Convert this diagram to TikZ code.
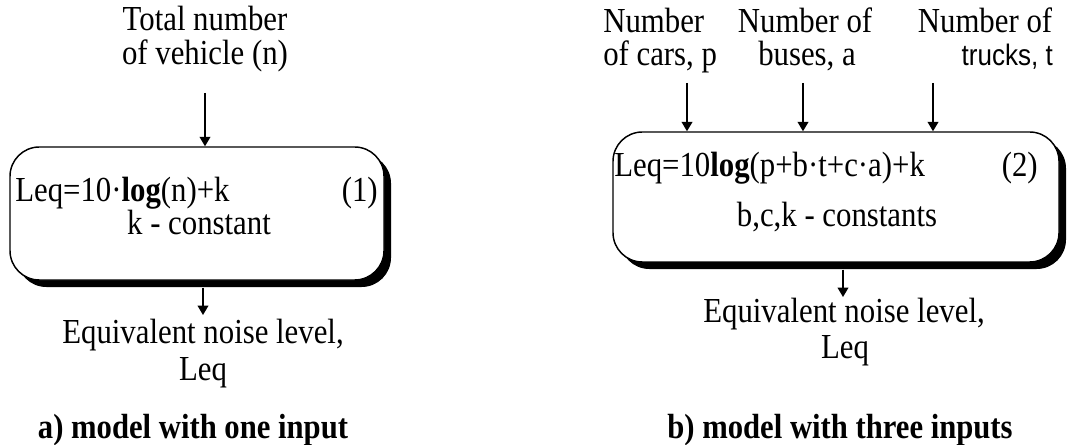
\documentclass[tikz,border=0pt]{standalone}
\usepackage{fontspec}
\setmainfont{Liberation Serif}
\newfontfamily\arialf{Liberation Sans}
\usepackage{graphicx}
\usetikzlibrary{arrows.meta,shadows}
\newcommand{\vs}[1]{\scalebox{1}[1.14]{#1}}
\begin{document}
\begin{tikzpicture}[x=0.75pt,y=-0.75pt,
  txt/.style={inner sep=0pt, font=\fontsize{23.1pt}{28pt}\selectfont},
  sanstxt/.style={inner sep=0pt, font=\arialf\fontsize{19.5pt}{24pt}\selectfont},
  captxt/.style={inner sep=0pt, font=\bfseries\fontsize{23pt}{28pt}\selectfont},
  model/.style={draw=black, line width=1.1pt, fill=white, rounded corners=22pt, inner sep=0pt,
    drop shadow={shadow xshift=5.25pt, shadow yshift=-5.25pt, fill=black, opacity=1}},
  arr/.style={line width=1.1pt, -{Triangle[length=7pt,width=8pt]}}]
\useasboundingbox (0,0) rectangle (1070,445);

% ---- left panel
\node[model, minimum width=280.5pt, minimum height=99.75pt] (box1) at (197,213.5) {};
\node[txt, anchor=base] (t1a) at (205,31) {\vs{Total number}};
\node[txt, anchor=base] (t1b) at (205,65) {\vs{of vehicle (n)}};
\coordinate (i1) at (205,93);
\draw[arr] (i1) -- (i1 |- box1.north);
\node[txt, anchor=base west] (f1) at (15,202) {\vs{Leq=10·\textbf{log}(n)+k}};
\node[txt, anchor=base east] (n1) at (378,202) {\vs{(1)}};
\node[txt, anchor=base] (c1) at (199,234) {\vs{k - constant}};
\coordinate (o1) at (203,315);
\draw[arr] ([yshift=-5.25pt]o1 |- box1.south) -- (o1);
\node[txt, anchor=base] (e1) at (203,343) {\vs{Equivalent noise level,}};
\node[txt, anchor=base] (l1) at (203,380) {\vs{Leq}};
\node[captxt, anchor=base] (cap1) at (193,438) {\vs{a) model with one input}};

% ---- right panel
\node[model, minimum width=334.5pt, minimum height=97.5pt] (box2) at (836,197) {};
\node[txt, anchor=base west] (p2a) at (603,33) {\vs{Number}};
\node[txt, anchor=base west] (p2b) at (603,66) {\vs{of cars, p}};
\node[txt, anchor=base] (a2a) at (805,33) {\vs{Number of}};
\node[txt, anchor=base] (a2b) at (807,66) {\vs{buses, a}};
\node[txt, anchor=base] (t2a) at (985,33) {\vs{Number of}};
\node[sanstxt, anchor=base east] (t2b) at (1053,66) {\vs{trucks, t}};
\coordinate (i2a) at (687,83);
\coordinate (i2b) at (803,83);
\coordinate (i2c) at (933,83);
\draw[arr] (i2a) -- (i2a |- box2.north);
\draw[arr] (i2b) -- (i2b |- box2.north);
\draw[arr] (i2c) -- (i2c |- box2.north);
\node[txt, anchor=base west] (f2) at (614,177) {\vs{Leq=10\textbf{log}(p+b·t+c·a)+k}};
\node[txt, anchor=base east] (n2) at (1038,177) {\vs{(2)}};
\node[txt, anchor=base] (c2) at (837,227) {\vs{b,c,k - constants}};
\coordinate (o2) at (843,297);
\draw[arr] ([yshift=-5.25pt]o2 |- box2.south) -- (o2);
\node[txt, anchor=base] (e2) at (844,322) {\vs{Equivalent noise level,}};
\node[txt, anchor=base] (l2) at (845,358) {\vs{Leq}};
\node[captxt, anchor=base] (cap2) at (840,438) {\vs{b) model with three inputs}};
\end{tikzpicture}
\end{document}
